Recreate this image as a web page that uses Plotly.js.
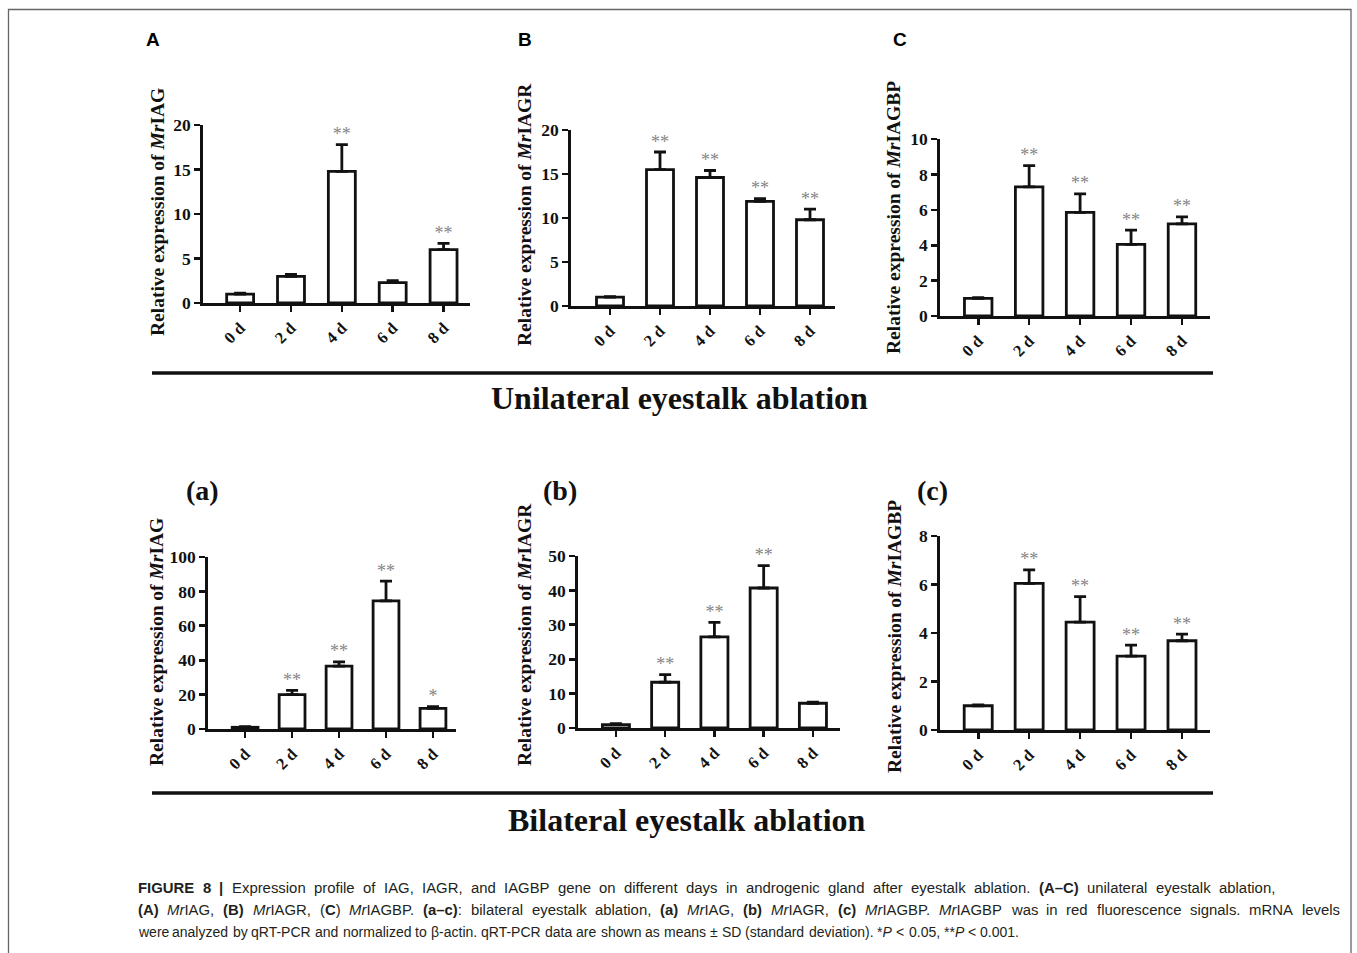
<!DOCTYPE html>
<html>
<head>
<meta charset="utf-8">
<script src="https://cdn.plot.ly/plotly-3.0.1.min.js"></script>
<style>html,body{margin:0;padding:0;background:#fff;}#chart{width:1357px;height:953px;}</style>
</head>
<body>
<div id="chart"></div>
<script>
// ---- Data ----
var days = ['0 d', '2 d', '4 d', '6 d', '8 d'];

// Unilateral eyestalk ablation
var uniIAG      = [1.0, 3.0, 14.8, 2.3, 6.0];
var uniIAG_sd   = [0.1, 0.2, 3.0, 0.2, 0.7];
var uniIAG_sig  = ['', '', '**', '', '**'];

var uniIAGR     = [1.0, 15.5, 14.6, 11.9, 9.8];
var uniIAGR_sd  = [0.05, 2.0, 0.8, 0.3, 1.2];
var uniIAGR_sig = ['', '**', '**', '**', '**'];

var uniIAGBP     = [1.0, 7.3, 5.85, 4.05, 5.2];
var uniIAGBP_sd  = [0.03, 1.2, 1.05, 0.8, 0.4];
var uniIAGBP_sig = ['', '**', '**', '**', '**'];

// Bilateral eyestalk ablation
var biIAG      = [1.0, 20.0, 36.5, 74.5, 12.0];
var biIAG_sd   = [0.3, 2.5, 2.5, 11.5, 1.0];
var biIAG_sig  = ['', '**', '**', '**', '*'];

var biIAGR     = [1.0, 13.3, 26.5, 40.7, 7.2];
var biIAGR_sd  = [0.3, 2.2, 4.2, 6.5, 0.3];
var biIAGR_sig = ['', '**', '**', '**', ''];

var biIAGBP     = [1.0, 6.05, 4.45, 3.05, 3.68];
var biIAGBP_sd  = [0.03, 0.55, 1.05, 0.45, 0.27];
var biIAGBP_sig = ['', '**', '**', '**', '**'];

var yTitles = ['Relative expression of <i>Mr</i>IAG', 'Relative expression of <i>Mr</i>IAGR', 'Relative expression of <i>Mr</i>IAGBP'];

var captionLines = [
  '<b>FIGURE 8 |</b> Expression profile of IAG, IAGR, and IAGBP gene on different days in androgenic gland after eyestalk ablation. <b>(A–C)</b> unilateral eyestalk ablation,',
  '<b>(A)</b> <i>Mr</i>IAG, <b>(B)</b> <i>Mr</i>IAGR, (<b>C</b>) <i>Mr</i>IAGBP. <b>(a–c)</b>: bilateral eyestalk ablation, <b>(a)</b> <i>Mr</i>IAG, <b>(b)</b> <i>Mr</i>IAGR, <b>(c)</b> <i>Mr</i>IAGBP. <i>Mr</i>IAGBP was in red fluorescence signals. mRNA levels',
  'were analyzed by qRT-PCR and normalized to β-actin. qRT-PCR data are shown as means ± SD (standard deviation). *<i>P</i> < 0.05, **<i>P</i> < 0.001.'
];

// ---- Layout helpers ----
var W = 1357, H = 953;
function px(x) { return x / W; }
function py(y) { return 1 - y / H; }

var SERIF = '"Liberation Serif", "Times New Roman", serif';
var SANS = '"Liberation Sans", Arial, sans-serif';

var panels = [
  {vals: uniIAG,   sd: uniIAG_sd,   sig: uniIAG_sig,   title: yTitles[0], x0: 203, x1: 470,  y0: 303, y1: 125, top: 20,  dt: 5,  xr: [-0.73, 4.52], bw: 0.53, tx: 158, ty: 212},
  {vals: uniIAGR,  sd: uniIAGR_sd,  sig: uniIAGR_sig,  title: yTitles[1], x0: 571, x1: 835,  y0: 306, y1: 130, top: 20,  dt: 5,  xr: [-0.78, 4.5],  bw: 0.54, tx: 524, ty: 215},
  {vals: uniIAGBP, sd: uniIAGBP_sd, sig: uniIAGBP_sig, title: yTitles[2], x0: 940, x1: 1210, y0: 316, y1: 139, top: 10,  dt: 2,  xr: [-0.75, 4.55], bw: 0.54, tx: 894, ty: 218},
  {vals: biIAG,    sd: biIAG_sd,    sig: biIAG_sig,    title: yTitles[0], x0: 208, x1: 456,  y0: 729, y1: 557, top: 100, dt: 20, xr: [-0.79, 4.49], bw: 0.55, tx: 156, ty: 642},
  {vals: biIAGR,   sd: biIAGR_sd,   sig: biIAGR_sig,   title: yTitles[1], x0: 578, x1: 840,  y0: 728, y1: 556, top: 50,  dt: 10, xr: [-0.77, 4.55], bw: 0.55, tx: 524, ty: 635},
  {vals: biIAGBP,  sd: biIAGBP_sd,  sig: biIAGBP_sig,  title: yTitles[2], x0: 940, x1: 1210, y0: 730, y1: 536, top: 8,   dt: 2,  xr: [-0.75, 4.55], bw: 0.55, tx: 894, ty: 637}
];

var data = [];
var layout = {
  width: W, height: H,
  margin: {l: 0, r: 0, t: 0, b: 0},
  paper_bgcolor: '#ffffff', plot_bgcolor: 'rgba(0,0,0,0)',
  showlegend: false,
  shapes: [], annotations: []
};

panels.forEach(function (p, i) {
  var n = i + 1;
  var xa = 'x' + (n === 1 ? '' : n), ya = 'y' + (n === 1 ? '' : n);
  var xk = 'xaxis' + (n === 1 ? '' : n), yk = 'yaxis' + (n === 1 ? '' : n);
  var zeros = p.vals.map(function () { return 0; });
  var idx = p.vals.map(function (v, k) { return k; });
  data.push({
    type: 'bar', x: idx, y: p.vals, xaxis: xa, yaxis: ya,
    width: p.bw,
    marker: {color: '#ffffff', line: {color: '#111111', width: 2.8}},
    error_y: {type: 'data', symmetric: false, array: p.sd, arrayminus: zeros, color: '#111111', thickness: 2.8, width: 6},
    hoverinfo: 'skip'
  });
  data.push({
    type: 'scatter', mode: 'text', x: idx,
    y: p.vals.map(function (v, k) { return v + p.sd[k]; }),
    text: p.sig, textposition: 'top center',
    textfont: {family: SERIF, size: 18, color: '#858585'},
    xaxis: xa, yaxis: ya, cliponaxis: false, hoverinfo: 'skip'
  });
  layout[xk] = {
    domain: [px(p.x0), px(p.x1)], anchor: ya,
    range: p.xr, tickmode: 'array', tickvals: idx, ticktext: days,
    tickangle: -45, ticks: 'outside', ticklen: 6, tickwidth: 2.6, tickcolor: '#111',
    showline: true, linewidth: 2.8, linecolor: '#111', showgrid: false, zeroline: false,
    tickfont: {family: SERIF, size: 16.5, color: '#111', weight: 'bold'}, fixedrange: true
  };
  layout[yk] = {
    domain: [py(p.y0), py(p.y1)], anchor: xa,
    range: [0, p.top], dtick: p.dt, tick0: 0,
    ticks: 'outside', ticklen: 6, tickwidth: 2.6, tickcolor: '#111',
    showline: true, linewidth: 2.8, linecolor: '#111', showgrid: false, zeroline: false,
    tickfont: {family: SERIF, size: 17.5, color: '#111', weight: 'bold'}, fixedrange: true
  };
  layout.annotations.push({
    xref: 'paper', yref: 'paper', x: px(p.tx), y: py(p.ty),
    text: '<b>' + p.title + '</b>', textangle: -90, showarrow: false,
    xanchor: 'center', yanchor: 'middle',
    font: {family: SERIF, size: 19.5, color: '#111'}
  });
});

// panel letters
[['A', 153, 40], ['B', 525, 40], ['C', 900, 40]].forEach(function (t) {
  layout.annotations.push({xref: 'paper', yref: 'paper', x: px(t[1]), y: py(t[2]), text: '<b>' + t[0] + '</b>', showarrow: false, xanchor: 'center', yanchor: 'middle', font: {family: SANS, size: 19, color: '#000'}});
});
[['(a)', 202, 490], ['(b)', 560, 490], ['(c)', 932, 490]].forEach(function (t) {
  layout.annotations.push({xref: 'paper', yref: 'paper', x: px(t[1]), y: py(t[2]), text: '<b>' + t[0] + '</b>', showarrow: false, xanchor: 'center', yanchor: 'middle', font: {family: SERIF, size: 28, color: '#111'}});
});

// group titles
layout.annotations.push({xref: 'paper', yref: 'paper', x: px(679), y: py(398), text: '<b>Unilateral eyestalk ablation</b>', showarrow: false, xanchor: 'center', yanchor: 'middle', font: {family: SERIF, size: 32, color: '#111'}});
layout.annotations.push({xref: 'paper', yref: 'paper', x: px(687), y: py(820), text: '<b>Bilateral eyestalk ablation</b>', showarrow: false, xanchor: 'center', yanchor: 'middle', font: {family: SERIF, size: 32, color: '#111'}});

// separators and frame
layout.shapes.push({type: 'line', xref: 'paper', yref: 'paper', x0: px(152), x1: px(1213), y0: py(373), y1: py(373), line: {color: '#111', width: 3.5}});
layout.shapes.push({type: 'line', xref: 'paper', yref: 'paper', x0: px(152), x1: px(1213), y0: py(793), y1: py(793), line: {color: '#111', width: 3.5}});
layout.shapes.push({type: 'path', xref: 'paper', yref: 'paper', path: 'M ' + px(8.5) + ' ' + py(970) + ' L ' + px(8.5) + ' ' + py(9.5) + ' L ' + px(1351) + ' ' + py(9.5) + ' L ' + px(1351) + ' ' + py(970), line: {color: '#666', width: 1.3}});

// caption: justified lines, laid out word by word
var capSize = [14.9, 14.9, 14];
var capY = [888, 910, 932];
var capRight = [1274, 1339, null];
var cnv = document.createElement('canvas').getContext('2d');
function runsOf(s) {
  var out = [], b = false, it = false;
  s.split(/(<\/?[bi]>)/).forEach(function (tok) {
    if (tok === '<b>') b = true; else if (tok === '</b>') b = false;
    else if (tok === '<i>') it = true; else if (tok === '</i>') it = false;
    else if (tok) out.push({t: tok, b: b, i: it});
  });
  return out;
}
function wordsOf(s) {
  var words = [], cur = [];
  runsOf(s).forEach(function (r) {
    var parts = r.t.split(' ');
    parts.forEach(function (pt, k) {
      if (k > 0) { if (cur.length) words.push(cur); cur = []; }
      if (pt) cur.push({t: pt, b: r.b, i: r.i});
    });
  });
  if (cur.length) words.push(cur);
  return words;
}
function fontStr(r, sz) { return (r.i ? 'italic ' : '') + (r.b ? 'bold ' : '') + sz + 'px "Liberation Sans"'; }
function widthOf(w, sz) { return w.reduce(function (a, r) { cnv.font = fontStr(r, sz); return a + cnv.measureText(r.t).width; }, 0); }
function htmlOf(w) {
  return w.map(function (r) {
    var t = r.t.replace(/</g, '&lt;').replace(/>/g, '&gt;');
    if (r.i) t = '<i>' + t + '</i>';
    if (r.b) t = '<b>' + t + '</b>';
    return t;
  }).join('');
}
captionLines.forEach(function (line, k) {
  var sz = capSize[k];
  cnv.font = sz + 'px "Liberation Sans"';
  var spaceW = cnv.measureText(' ').width + 0.2;
  var words = wordsOf(line);
  var widths = words.map(function (w) { return widthOf(w, sz); });
  var total = widths.reduce(function (a, b) { return a + b; }, 0);
  var gap = spaceW;
  if (capRight[k] !== null && words.length > 1) gap = (capRight[k] - 137 - total) / (words.length - 1);
  var x = 137;
  words.forEach(function (w, j) {
    layout.annotations.push({xref: 'paper', yref: 'paper', x: px(x), y: py(capY[k]), text: htmlOf(w), showarrow: false, xanchor: 'left', yanchor: 'middle', borderpad: 0, font: {family: SANS, size: sz, color: '#231f20'}});
    x += widths[j] + gap;
  });
});

Plotly.newPlot('chart', data, layout, {displayModeBar: false, staticPlot: true});
</script>
</body>
</html>
